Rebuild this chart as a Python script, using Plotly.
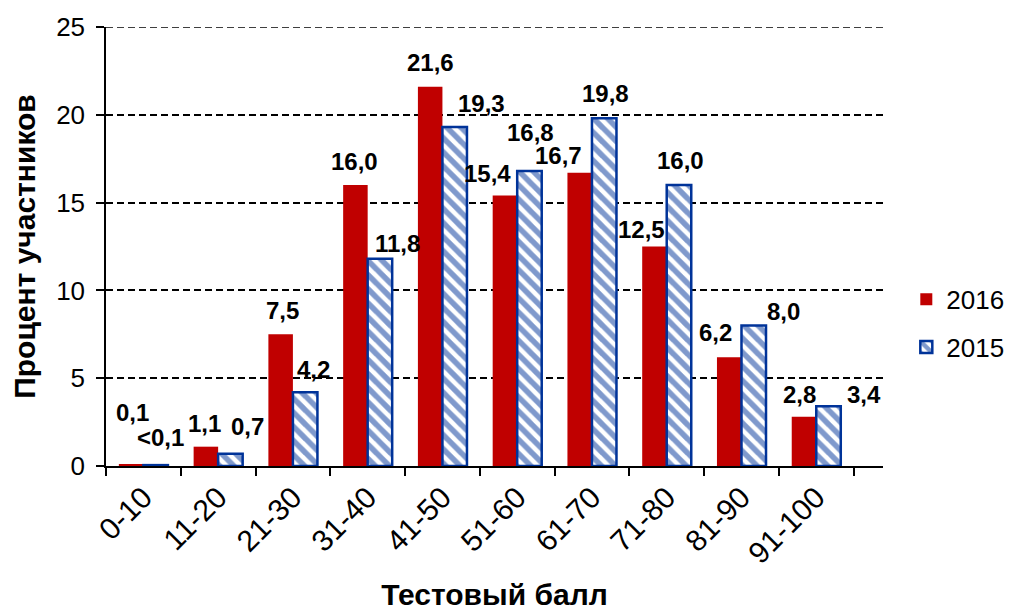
import plotly.graph_objects as go

categories = ["0-10", "11-20", "21-30", "31-40", "41-50", "51-60", "61-70", "71-80", "81-90", "91-100"]
values_2016 = [0.1, 1.1, 7.5, 16.0, 21.6, 15.4, 16.7, 12.5, 6.2, 2.8]
values_2015 = [0.05, 0.7, 4.2, 11.8, 19.3, 16.8, 19.8, 16.0, 8.0, 3.4]
labels_2016 = ["0,1", "1,1", "7,5", "16,0", "21,6", "15,4", "16,7", "12,5", "6,2", "2,8"]
labels_2015 = ["<0,1", "0,7", "4,2", "11,8", "19,3", "16,8", "19,8", "16,0", "8,0", "3,4"]
y_ticks = [0, 5, 10, 15, 20, 25]

# label placement offsets in pixels (dx, dy up) relative to bar top-centre
off_2016 = [(2, 52), (-1, 23), (2, 24), (0, 24), (1, 24), (-17, 22), (-21, 17), (-12, 17), (-13, 25), (-4, 22)]
off_2015 = [(4, 28), (17, 27), (8, 23), (17, 15), (26, 24), (1, 38), (1, 25), (1, 25), (29, 14), (35, 12)]

RED = "#C00000"
BLUE = "#003399"
FONT = "Arial, Liberation Sans, sans-serif"

fig = go.Figure()
fig.add_trace(go.Bar(
    x=categories, y=values_2016, name="2016",
    marker=dict(color=RED, line=dict(width=0)),
    legendgroup="a",
))
fig.add_trace(go.Bar(
    x=categories, y=values_2015, name="2015",
    marker=dict(color="white", line=dict(color=BLUE, width=2.5),
                pattern=dict(shape="\\", fgcolor=BLUE, bgcolor="white", size=10, solidity=0.55)),
    legendgroup="b",
))

half = 12.75
annotations = []
for i, c in enumerate(categories):
    dx, dy = off_2016[i]
    annotations.append(dict(x=c, y=values_2016[i], text=labels_2016[i], showarrow=False,
                            xshift=-half + dx, yshift=dy,
                            font=dict(family=FONT, size=24, color="black", weight="bold")))
    dx, dy = off_2015[i]
    annotations.append(dict(x=c, y=values_2015[i], text=labels_2015[i], showarrow=False,
                            xshift=half + dx, yshift=dy,
                            font=dict(family=FONT, size=24, color="black", weight="bold")))

# top gridline (at the edge of the plot area)
shapes = [dict(type="line", xref="paper", x0=0, x1=1, yref="y", y0=y_ticks[-1], y1=y_ticks[-1],
               line=dict(color="black", width=1.5, dash="7px,4px"), layer="below")]

# page body has an 8px default margin, so the figure is drawn 8px smaller
fig.update_layout(
    width=1006, height=603,
    margin=dict(l=98, r=131, t=19, b=145, autoexpand=False),
    paper_bgcolor="white", plot_bgcolor="white",
    barmode="group", bargap=0.344, bargroupgap=0,
    font=dict(family=FONT, color="black"),
    annotations=annotations,
    shapes=shapes,
    showlegend=True,
    legend=dict(x=1.03, y=0.325, xanchor="left", yanchor="middle",
                font=dict(family=FONT, size=26, color="black"),
                tracegroupgap=11, itemwidth=30, bgcolor="rgba(0,0,0,0)"),
)
fig.update_xaxes(
    type="category", tickson="boundaries", automargin=False,
    ticks="outside", ticklen=8, tickwidth=1.5, tickcolor="black",
    showline=True, linecolor="black", linewidth=1.5,
    tickangle=-45, tickfont=dict(family=FONT, size=30, color="black"),
    title=dict(text="Тестовый балл", font=dict(family=FONT, size=30, color="black", weight="bold"), standoff=25),
    showgrid=False,
)
fig.update_yaxes(
    range=[0, 25], tickvals=y_ticks, ticktext=[str(v) for v in y_ticks], automargin=False,
    ticks="outside", ticklen=8, tickwidth=1.5, tickcolor="black", ticklabelstandoff=6,
    showline=True, linecolor="black", linewidth=1.5,
    tickfont=dict(family=FONT, size=26, color="black"),
    showgrid=True, gridcolor="black", gridwidth=1.5, griddash="7px,4px",
    zeroline=False,
    title=dict(text="Процент участников", font=dict(family=FONT, size=30, color="black", weight="bold"), standoff=27),
)

fig.write_html("out.html")
